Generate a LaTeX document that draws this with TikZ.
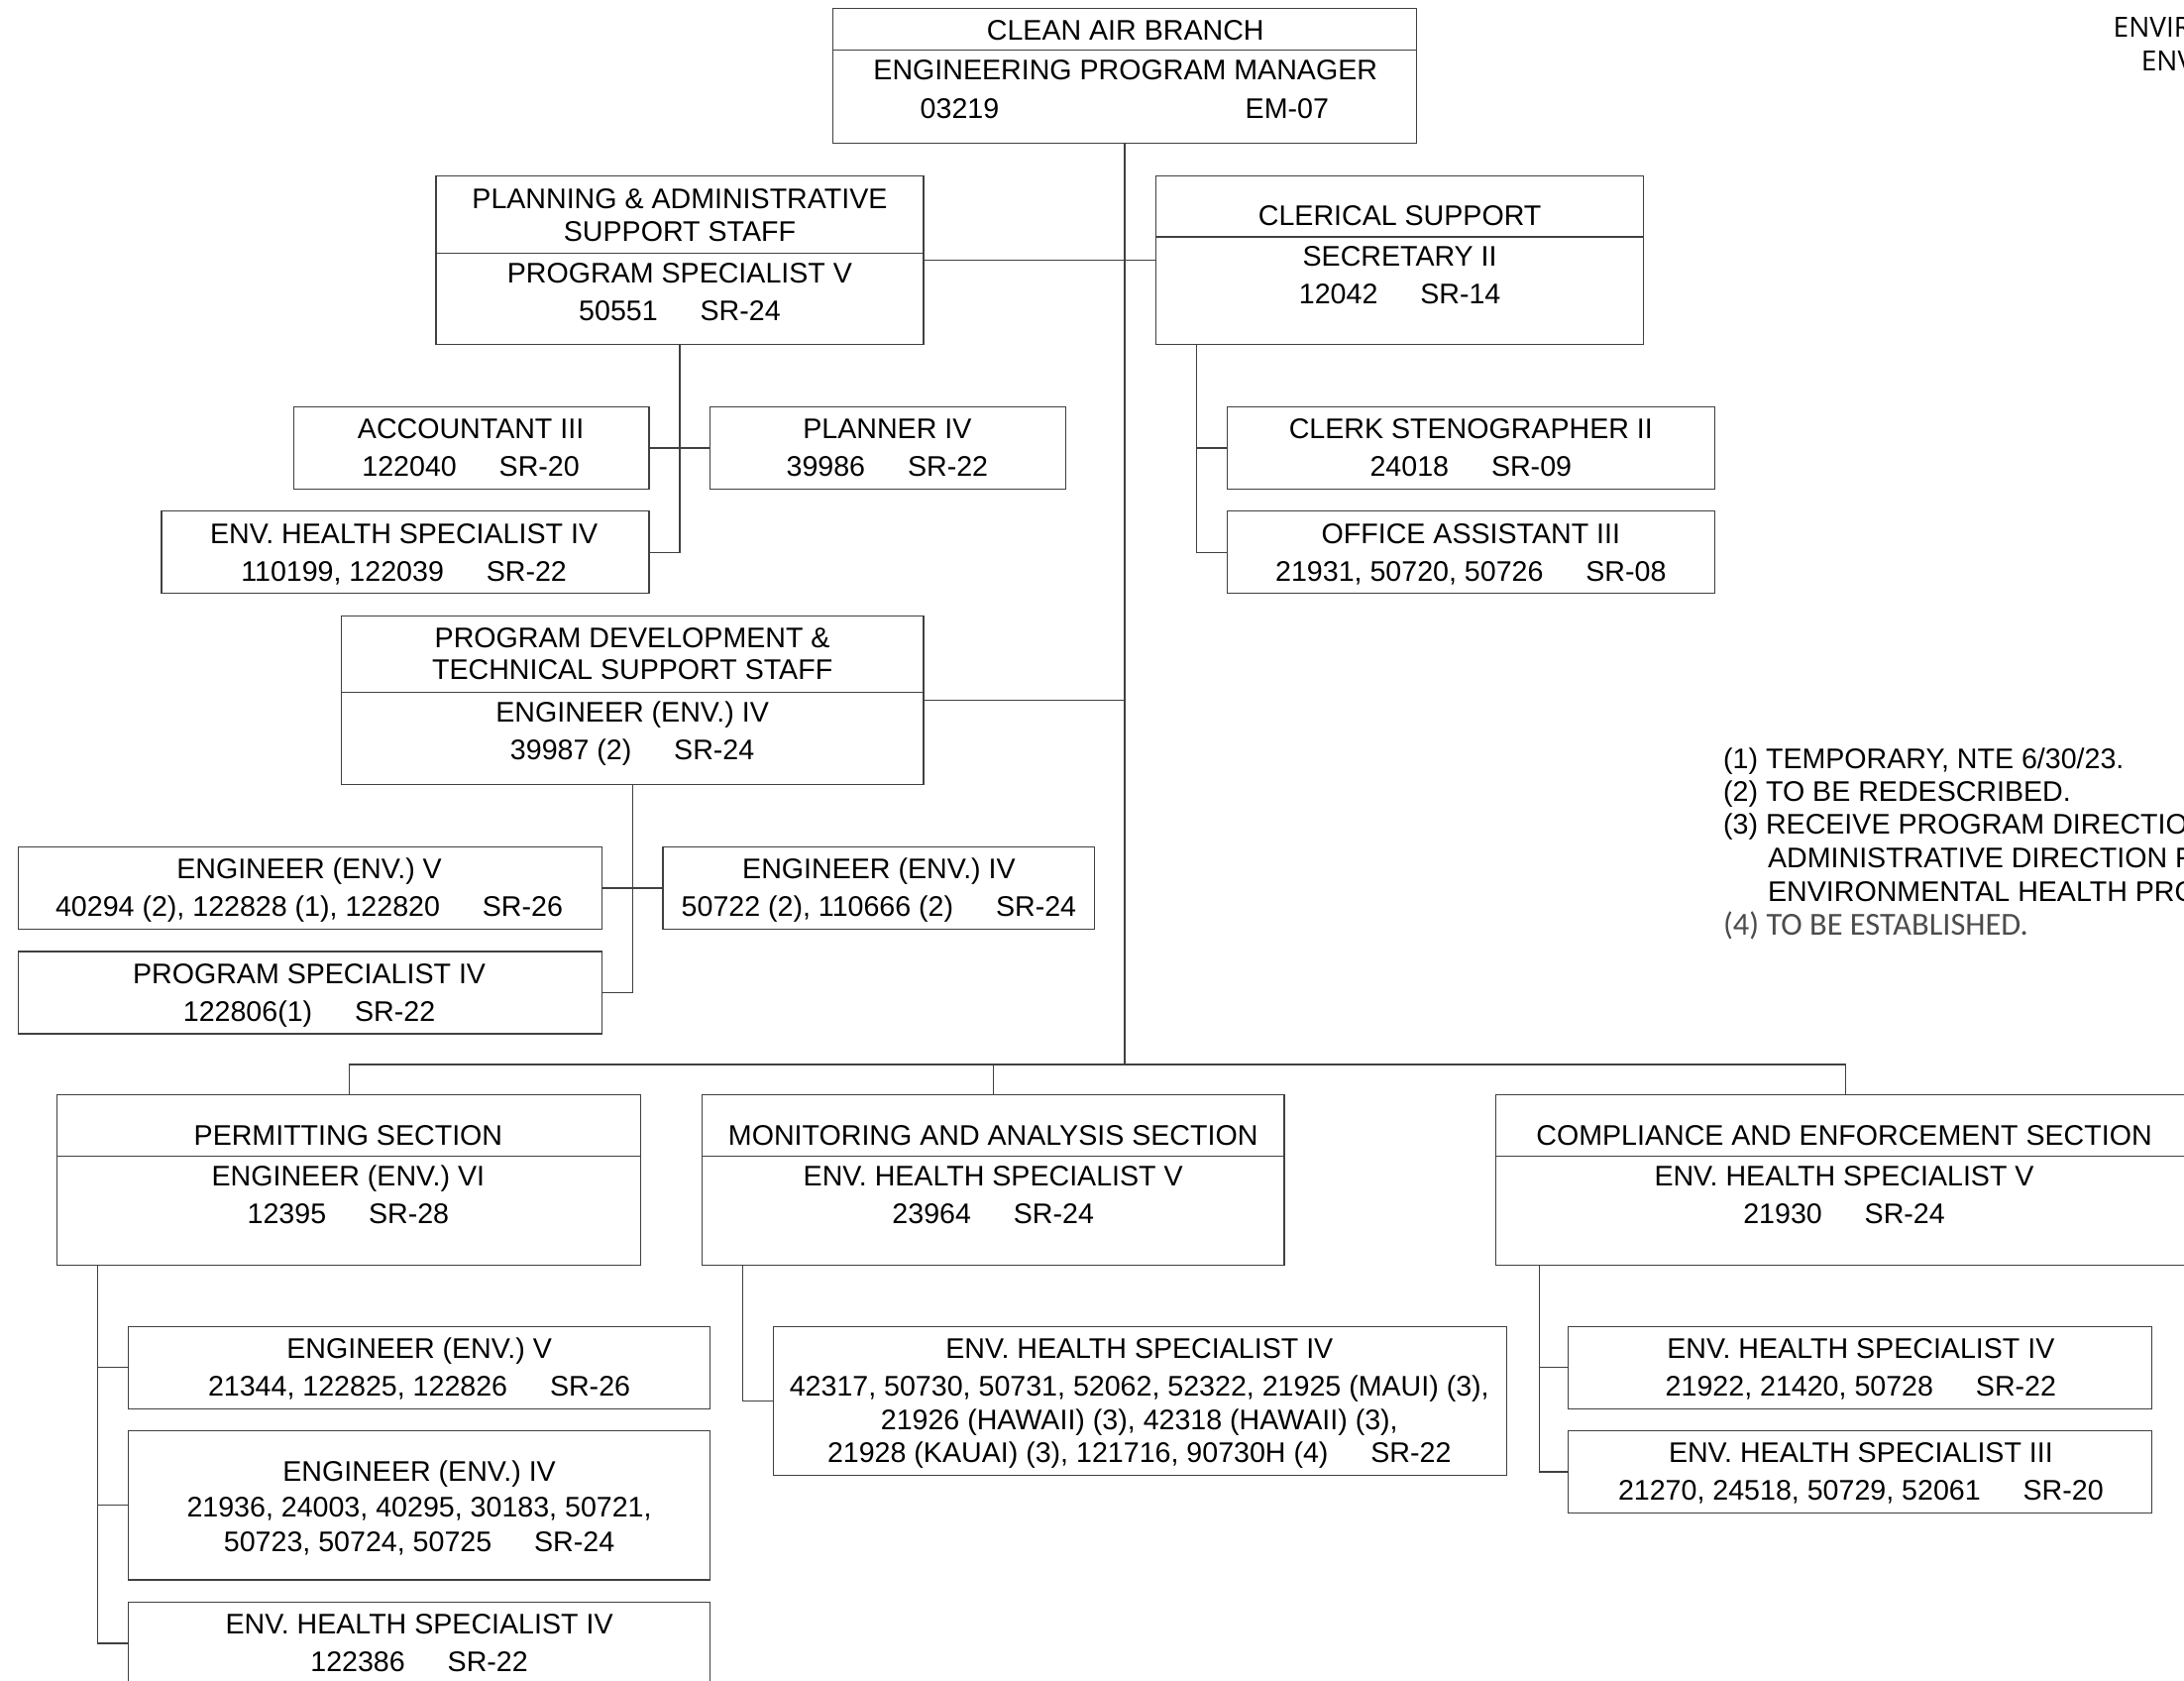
\documentclass[tikz,border=0pt]{standalone}
\usepackage{fontspec}
\setmainfont{Liberation Sans}
\newfontfamily\lightfont{Carlito}
\newfontfamily\hdrfont{Open Sans}
\usetikzlibrary{fit}
\newcommand\gap{\hspace{1.5em}}
\begin{document}
\begin{tikzpicture}[x=0.7028pt, y=-0.7028pt,
  bx/.style={draw=black!75, line width=0.6pt, inner sep=0pt},
  tx/.style={inner sep=0pt, anchor=base, font=\fontsize{14.3}{16}\selectfont},
  nt/.style={inner sep=0pt, anchor=base west, font=\fontsize{14.3}{16}\selectfont},
  ln/.style={draw=black!75, line width=0.6pt}]
\useasboundingbox (0,0) rectangle (1568,1206);
\fill[white] (0,0) rectangle (1568,1206);

% ---------- boxes ----------
\node[bx, fit={(598,6) (1017,103)}] (top) {};
\node[bx, fit={(313,126) (663,247)}] (plan) {};
\node[bx, fit={(830,126) (1180,247)}] (cler) {};
\node[bx, fit={(211,292) (466,351)}] (acct) {};
\node[bx, fit={(510,292) (765,351)}] (plnr) {};
\node[bx, fit={(116,367) (466,426)}] (ehs1) {};
\node[bx, fit={(881,292) (1231,351)}] (steno) {};
\node[bx, fit={(881,367) (1231,426)}] (office) {};
\node[bx, fit={(245,442) (663,563)}] (pdev) {};
\node[bx, fit={(13,608) (432,667)}] (eng5) {};
\node[bx, fit={(476,608) (786,667)}] (eng4) {};
\node[bx, fit={(13,683) (432,742)}] (pspec) {};
\node[bx, fit={(41,786) (460,908)}] (perm) {};
\node[bx, fit={(504,786) (922,908)}] (mon) {};
\node[bx, fit={(1074,786) (1576,908)}] (comp) {};
\node[bx, fit={(92,952) (510,1011)}] (p1) {};
\node[bx, fit={(92,1027) (510,1134)}] (p2) {};
\node[bx, fit={(92,1150) (510,1209)}] (p3) {};
\node[bx, fit={(555,952) (1082,1059)}] (m1) {};
\node[bx, fit={(1126,952) (1545,1011)}] (c1) {};
\node[bx, fit={(1126,1027) (1545,1086)}] (c2) {};

% ---------- separators ----------
\draw[ln] (top.west |- 0,36) -- (top.east |- 0,36);
\draw[ln] (plan.west |- 0,182) -- (plan.east |- 0,182);
\draw[ln] (cler.west |- 0,170) -- (cler.east |- 0,170);
\draw[ln] (pdev.west |- 0,497) -- (pdev.east |- 0,497);
\draw[ln] (perm.west |- 0,830) -- (perm.east |- 0,830);
\draw[ln] (mon.west |- 0,830) -- (mon.east |- 0,830);
\draw[ln] (comp.west |- 0,830) -- (comp.east |- 0,830);

% ---------- connectors ----------
\coordinate (bus) at (808,764);
\draw[ln] (top.south) -- (top.south |- bus);
\draw[ln] (plan.east) -- (cler.west);
\draw[ln] (pdev.east) -- (pdev.east -| top.south);
\draw[ln] (plan.south) |- (ehs1.east);
\draw[ln] (acct.east) -- (plnr.west);
\coordinate (cv) at (859,247);
\draw[ln] (cv) |- (office.west);
\draw[ln] (cv |- steno.west) -- (steno.west);
\draw[ln] (pdev.south) |- (pspec.east);
\draw[ln] (eng5.east) -- (eng4.west);
\draw[ln] (perm.north) |- (bus) -| (comp.north);
\draw[ln] (mon.north) -- (mon.north |- bus);
\coordinate (pv) at (70,908);
\draw[ln] (pv) |- (p3.west);
\draw[ln] (pv |- p1.west) -- (p1.west);
\draw[ln] (pv |- p2.west) -- (p2.west);
\coordinate (mv) at (533,908);
\draw[ln] (mv) |- (m1.west);
\coordinate (kv) at (1105,908);
\draw[ln] (kv) |- (c2.west);
\draw[ln] (kv |- c1.west) -- (c1.west);

% ---------- texts ----------
\node[tx] (top-1) at (808,29) {CLEAN AIR BRANCH};
\node[tx] (top-2) at (808,57) {ENGINEERING PROGRAM MANAGER};
\node[tx] (top-3) at (689,85) {03219};
\node[tx] (top-4) at (924,85) {EM-07};

\node[tx] (plan-1) at (488,150) {PLANNING \& ADMINISTRATIVE};
\node[tx] (plan-2) at (488,173) {SUPPORT STAFF};
\node[tx] (plan-3) at (488,203) {PROGRAM SPECIALIST V};
\node[tx] (plan-4) at (488,230) {50551\gap SR-24};

\node[tx] (cler-1) at (1005,162) {CLERICAL SUPPORT};
\node[tx] (cler-2) at (1005,191) {SECRETARY II};
\node[tx] (cler-3) at (1005,218) {12042\gap SR-14};

\node[tx] (acct-1) at (338,315) {ACCOUNTANT III};
\node[tx] (acct-2) at (338,342) {122040\gap SR-20};
\node[tx] (plnr-1) at (637,315) {PLANNER IV};
\node[tx] (plnr-2) at (637,342) {39986\gap SR-22};
\node[tx] (ehs1-1) at (290,390) {ENV. HEALTH SPECIALIST IV};
\node[tx] (ehs1-2) at (290,417) {110199, 122039\gap SR-22};

\node[tx] (steno-1) at (1056,315) {CLERK STENOGRAPHER II};
\node[tx] (steno-2) at (1056,342) {24018\gap SR-09};
\node[tx] (office-1) at (1056,390) {OFFICE ASSISTANT III};
\node[tx] (office-2) at (1056,417) {21931, 50720, 50726\gap SR-08};

\node[tx] (pdev-1) at (454,465) {PROGRAM DEVELOPMENT \&};
\node[tx] (pdev-2) at (454,488) {TECHNICAL SUPPORT STAFF};
\node[tx] (pdev-3) at (454,518) {ENGINEER (ENV.) IV};
\node[tx] (pdev-4) at (454,545) {39987 (2)\gap SR-24};

\node[tx] (eng5-1) at (222,631) {ENGINEER (ENV.) V};
\node[tx] (eng5-2) at (222,658) {40294 (2), 122828 (1), 122820\gap SR-26};
\node[tx] (eng4-1) at (631,631) {ENGINEER (ENV.) IV};
\node[tx] (eng4-2) at (631,658) {50722 (2), 110666 (2)\gap SR-24};
\node[tx] (pspec-1) at (222,706) {PROGRAM SPECIALIST IV};
\node[tx] (pspec-2) at (222,733) {122806(1)\gap SR-22};

\node[tx] (perm-1) at (250,822) {PERMITTING SECTION};
\node[tx] (perm-2) at (250,851) {ENGINEER (ENV.) VI};
\node[tx] (perm-3) at (250,878) {12395\gap SR-28};
\node[tx] (mon-1) at (713,822) {MONITORING AND ANALYSIS SECTION};
\node[tx] (mon-2) at (713,851) {ENV. HEALTH SPECIALIST V};
\node[tx] (mon-3) at (713,878) {23964\gap SR-24};
\node[tx] (comp-1) at (1324,822) {COMPLIANCE AND ENFORCEMENT SECTION};
\node[tx] (comp-2) at (1324,851) {ENV. HEALTH SPECIALIST V};
\node[tx] (comp-3) at (1324,878) {21930\gap SR-24};

\node[tx] (p1-1) at (301,975) {ENGINEER (ENV.) V};
\node[tx] (p1-2) at (301,1002) {21344, 122825, 122826\gap SR-26};
\node[tx] (p2-1) at (301,1063) {ENGINEER (ENV.) IV};
\node[tx] (p2-2) at (301,1089) {21936, 24003, 40295, 30183, 50721,};
\node[tx] (p2-3) at (301,1114) {50723, 50724, 50725\gap SR-24};
\node[tx] (p3-1) at (301,1173) {ENV. HEALTH SPECIALIST IV};
\node[tx] (p3-2) at (301,1200) {122386\gap SR-22};

\node[tx] (m1-1) at (818,975) {ENV. HEALTH SPECIALIST IV};
\node[tx] (m1-2) at (818,1002) {42317, 50730, 50731, 52062, 52322, 21925 (MAUI) (3),};
\node[tx] (m1-3) at (818,1026) {21926 (HAWAII) (3), 42318 (HAWAII) (3),};
\node[tx] (m1-4) at (818,1050) {21928 (KAUAI) (3), 121716, 90730H (4)\gap SR-22};

\node[tx] (c1-1) at (1336,975) {ENV. HEALTH SPECIALIST IV};
\node[tx] (c1-2) at (1336,1002) {21922, 21420, 50728\gap SR-22};
\node[tx] (c2-1) at (1336,1050) {ENV. HEALTH SPECIALIST III};
\node[tx] (c2-2) at (1336,1077) {21270, 24518, 50729, 52061\gap SR-20};

% ---------- notes ----------
\node[nt] (n1) at (1237,552) {(1) TEMPORARY, NTE 6/30/23.};
\node[nt] (n2) at (1237,575) {(2) TO BE REDESCRIBED.};
\node[nt] (n3) at (1237,599) {(3) RECEIVE PROGRAM DIRECTION FROM};
\node[nt] (n3b) at (1269,623) {ADMINISTRATIVE DIRECTION FROM};
\node[nt] (n3c) at (1269,647) {ENVIRONMENTAL HEALTH PROGRAM};
\node[nt, font=\lightfont\fontsize{16.2}{18}\selectfont, text=black!70] (n4) at (1237,671) {(4) TO BE ESTABLISHED.};

% ---------- header (cut off) ----------
\node[nt, font=\hdrfont\fontsize{14}{16}\selectfont] (h1) at (1517,27) {ENVIRONMENTAL HEALTH ADMINISTRATION};
\node[nt, font=\hdrfont\fontsize{14}{16}\selectfont] (h2) at (1537,51) {ENVIRONMENTAL MANAGEMENT DIVISION};
\end{tikzpicture}
\end{document}
